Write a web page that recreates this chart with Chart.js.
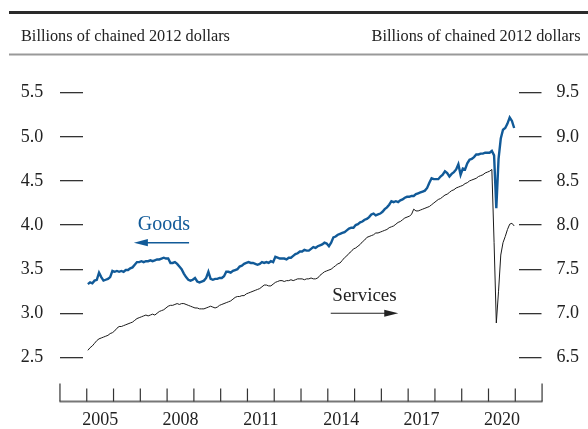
<!DOCTYPE html>
<html><head><meta charset="utf-8">
<script src="https://cdn.jsdelivr.net/npm/chart.js@4"></script>
<style>html,body{margin:0;padding:0;background:#fff}canvas{display:block}</style>
</head><body>
<canvas id="c" width="588" height="429"></canvas>
<script>
// Monthly series, January 2005 through December 2020
const startYear = 2005;
const goods = [
  3.33, 3.35, 3.34, 3.37, 3.38, 3.46, 3.41, 3.37, 3.38, 3.39, 3.41, 3.48, // 2005
  3.47, 3.48, 3.47, 3.48, 3.47, 3.49, 3.49, 3.51, 3.52, 3.55, 3.58, 3.58, // 2006
  3.59, 3.58, 3.59, 3.59, 3.60, 3.59, 3.60, 3.61, 3.61, 3.62, 3.63, 3.62, // 2007
  3.62, 3.57, 3.57, 3.58, 3.56, 3.53, 3.50, 3.45, 3.41, 3.38, 3.37, 3.38, // 2008
  3.40, 3.36, 3.35, 3.36, 3.37, 3.40, 3.47, 3.39, 3.38, 3.39, 3.39, 3.40, // 2009
  3.40, 3.42, 3.47, 3.47, 3.46, 3.48, 3.49, 3.50, 3.53, 3.54, 3.56, 3.57, // 2010
  3.58, 3.57, 3.57, 3.56, 3.55, 3.56, 3.58, 3.57, 3.58, 3.57, 3.59, 3.58, // 2011
  3.64, 3.63, 3.62, 3.62, 3.62, 3.61, 3.63, 3.63, 3.65, 3.67, 3.68, 3.70, // 2012
  3.70, 3.72, 3.71, 3.71, 3.73, 3.75, 3.74, 3.76, 3.77, 3.78, 3.80, 3.79, // 2013
  3.76, 3.80, 3.86, 3.87, 3.89, 3.90, 3.91, 3.92, 3.94, 3.96, 3.97, 3.97, // 2014
  4.00, 4.01, 4.03, 4.04, 4.06, 4.07, 4.09, 4.12, 4.13, 4.11, 4.12, 4.13, // 2015
  4.15, 4.18, 4.20, 4.23, 4.27, 4.26, 4.27, 4.26, 4.28, 4.29, 4.31, 4.32, // 2016
  4.32, 4.33, 4.33, 4.35, 4.36, 4.37, 4.38, 4.39, 4.42, 4.48, 4.53, 4.52, // 2017
  4.52, 4.52, 4.55, 4.57, 4.61, 4.59, 4.55, 4.58, 4.60, 4.63, 4.69, 4.57, // 2018
  4.64, 4.63, 4.70, 4.74, 4.75, 4.77, 4.80, 4.80, 4.81, 4.81, 4.82, 4.82, // 2019
  4.82, 4.84, 4.79, 4.19, 4.75, 4.98, 5.08, 5.10, 5.15, 5.22, 5.18, 5.10  // 2020
];
const services = [
  6.58, 6.61, 6.63, 6.66, 6.69, 6.71, 6.72, 6.73, 6.74, 6.75, 6.77, 6.78, // 2005
  6.80, 6.83, 6.85, 6.85, 6.86, 6.87, 6.88, 6.89, 6.90, 6.92, 6.94, 6.95, // 2006
  6.96, 6.97, 6.98, 6.97, 6.98, 6.99, 6.98, 7.00, 7.02, 7.03, 7.04, 7.06, // 2007
  7.08, 7.09, 7.09, 7.10, 7.11, 7.10, 7.11, 7.11, 7.10, 7.09, 7.08, 7.07, // 2008
  7.06, 7.06, 7.05, 7.05, 7.05, 7.06, 7.07, 7.08, 7.07, 7.06, 7.07, 7.09, // 2009
  7.10, 7.11, 7.12, 7.13, 7.14, 7.16, 7.18, 7.19, 7.19, 7.20, 7.20, 7.22, // 2010
  7.23, 7.24, 7.25, 7.26, 7.27, 7.28, 7.30, 7.32, 7.32, 7.31, 7.31, 7.33, // 2011
  7.35, 7.36, 7.37, 7.37, 7.36, 7.37, 7.37, 7.38, 7.37, 7.38, 7.39, 7.39, // 2012
  7.39, 7.38, 7.39, 7.39, 7.40, 7.39, 7.39, 7.40, 7.43, 7.45, 7.47, 7.48, // 2013
  7.49, 7.50, 7.52, 7.54, 7.56, 7.57, 7.60, 7.63, 7.65, 7.68, 7.70, 7.73, // 2014
  7.74, 7.76, 7.78, 7.81, 7.83, 7.86, 7.87, 7.88, 7.89, 7.91, 7.91, 7.92, // 2015
  7.93, 7.94, 7.95, 7.97, 7.98, 7.99, 8.01, 8.03, 8.04, 8.06, 8.08, 8.09, // 2016
  8.10, 8.12, 8.18, 8.16, 8.16, 8.17, 8.18, 8.19, 8.20, 8.21, 8.23, 8.25, // 2017
  8.27, 8.29, 8.30, 8.32, 8.34, 8.35, 8.37, 8.39, 8.40, 8.42, 8.43, 8.44, // 2018
  8.45, 8.47, 8.48, 8.50, 8.51, 8.52, 8.53, 8.55, 8.56, 8.57, 8.59, 8.60, // 2019
  8.61, 8.63, 7.80, 6.89, 7.25, 7.66, 7.80, 7.87, 7.95, 8.01, 8.02, 7.99  // 2020
];
const yearLabels = [2005, 2008, 2011, 2014, 2017, 2020];
const axisYears = [2004, 2022];
const leftTicks = [2.5, 3.0, 3.5, 4.0, 4.5, 5.0, 5.5];
const rightTicks = [6.5, 7.0, 7.5, 8.0, 8.5, 9.0, 9.5];
const unitLabel = 'Billions of chained 2012 dollars';
const goodsName = 'Goods';
const servicesName = 'Services';

const BLUE = '#115a98';
const INK = '#222';
const SERIF = '"Liberation Serif", "Times New Roman", serif';

const toPoints = arr => arr.map((v, i) => ({ x: startYear + (i + 0.5) / 12, y: v }));

function arrow(ctx, x1, x2, y, color, lw) {
  const dir = Math.sign(x2 - x1);
  const headLen = 14, half = 3.6;
  ctx.strokeStyle = color; ctx.fillStyle = color; ctx.lineWidth = lw;
  ctx.beginPath(); ctx.moveTo(x1, y); ctx.lineTo(x2 - dir * headLen * 0.6, y); ctx.stroke();
  ctx.beginPath(); ctx.moveTo(x2, y); ctx.lineTo(x2 - dir * headLen, y - half);
  ctx.lineTo(x2 - dir * headLen, y + half); ctx.closePath(); ctx.fill();
}

const decor = {
  id: 'decor',
  afterDraw(chart) {
    const ctx = chart.ctx;
    const sx = chart.scales.x, yl = chart.scales.y, yr = chart.scales.y1;
    const W = chart.width;
    ctx.save();
    // header rules and unit labels
    ctx.lineCap = 'butt';
    ctx.strokeStyle = '#2a2a2a'; ctx.lineWidth = 3;
    ctx.beginPath(); ctx.moveTo(9, 12.4); ctx.lineTo(W, 12.4); ctx.stroke();
    ctx.strokeStyle = '#999'; ctx.lineWidth = 2;
    ctx.beginPath(); ctx.moveTo(9, 54.4); ctx.lineTo(W, 54.4); ctx.stroke();
    ctx.fillStyle = INK; ctx.font = '16.3px ' + SERIF; ctx.textBaseline = 'middle';
    ctx.textAlign = 'left'; ctx.fillText(unitLabel, 21, 36.7);
    ctx.textAlign = 'right'; ctx.fillText(unitLabel, 580.5, 36.7);

    // x baseline and year marks (pointing up)
    const yb = chart.chartArea.bottom;
    const xa = sx.getPixelForValue(axisYears[0]), xb = sx.getPixelForValue(axisYears[1]);
    ctx.strokeStyle = '#777'; ctx.lineWidth = 2;
    ctx.beginPath(); ctx.moveTo(xa - 0.5, yb); ctx.lineTo(xb + 0.5, yb); ctx.stroke();
    ctx.strokeStyle = '#333'; ctx.lineWidth = 1.2;
    for (let yv = axisYears[0]; yv <= axisYears[1]; yv++) {
      const px = sx.getPixelForValue(yv);
      const len = (yv === axisYears[0] || yv === axisYears[1]) ? 18 : 13;
      ctx.beginPath(); ctx.moveTo(px, yb); ctx.lineTo(px, yb - len); ctx.stroke();
    }

    // series annotations
    ctx.textAlign = 'center'; ctx.textBaseline = 'middle';
    ctx.fillStyle = BLUE; ctx.font = '20px ' + SERIF;
    ctx.fillText(goodsName, sx.getPixelForValue(2007.88), yl.getPixelForValue(4.0));
    arrow(ctx, sx.getPixelForValue(2008.82), sx.getPixelForValue(2006.76), yl.getPixelForValue(3.80), BLUE, 1.4);
    ctx.fillStyle = INK; ctx.font = '19px ' + SERIF;
    ctx.fillText(servicesName, sx.getPixelForValue(2015.37), yr.getPixelForValue(7.20));
    arrow(ctx, sx.getPixelForValue(2014.11), sx.getPixelForValue(2016.63), yr.getPixelForValue(7.0), INK, 1.2);
    ctx.restore();
  }
};

const tickFont = { family: SERIF, size: 18 };

new Chart(document.getElementById('c'), {
  type: 'line',
  data: {
    datasets: [
      { label: goodsName, data: toPoints(goods), yAxisID: 'y', borderColor: BLUE, borderWidth: 2.4,
        pointRadius: 0, tension: 0, fill: false },
      { label: servicesName, data: toPoints(services), yAxisID: 'y1', borderColor: '#1a1a1a', borderWidth: 1,
        pointRadius: 0, tension: 0, fill: false }
    ]
  },
  options: {
    responsive: false,
    animation: false,
    devicePixelRatio: 1,
    layout: { padding: { top: 92.7, left: 0, right: 0, bottom: 0 } },
    plugins: { legend: { display: false }, tooltip: { enabled: false } },
    scales: {
      x: {
        type: 'linear', min: 2004.86, max: 2021.12,
        afterBuildTicks: s => { s.ticks = yearLabels.map(y => ({ value: y + 0.5 })); },
        ticks: { callback: v => String(Math.floor(v)), font: tickFont, color: INK, padding: 8,
                 maxRotation: 0, autoSkip: false },
        grid: { display: false, drawTicks: false, tickLength: 0 },
        border: { display: false },
        afterFit: s => { s.height = 26.5; }
      },
      y: {
        position: 'left', min: 2, max: 5.5,
        afterBuildTicks: s => { s.ticks = leftTicks.map(v => ({ value: v })); },
        ticks: { callback: v => v.toFixed(1), font: tickFont, color: INK, padding: 16.7 },
        grid: { drawOnChartArea: false, drawTicks: true, tickLength: 23, color: '#333', lineWidth: 1.3 },
        border: { display: false },
        afterFit: s => { s.width = 83; }
      },
      y1: {
        position: 'right', min: 6, max: 9.5,
        afterBuildTicks: s => { s.ticks = rightTicks.map(v => ({ value: v })); },
        ticks: { callback: v => v.toFixed(1), font: tickFont, color: INK, padding: 15 },
        grid: { drawOnChartArea: false, drawTicks: true, tickLength: 23, color: '#333', lineWidth: 1.3 },
        border: { display: false },
        afterFit: s => { s.width = 69.5; }
      }
    }
  },
  plugins: [decor]
});
</script>
</body></html>
